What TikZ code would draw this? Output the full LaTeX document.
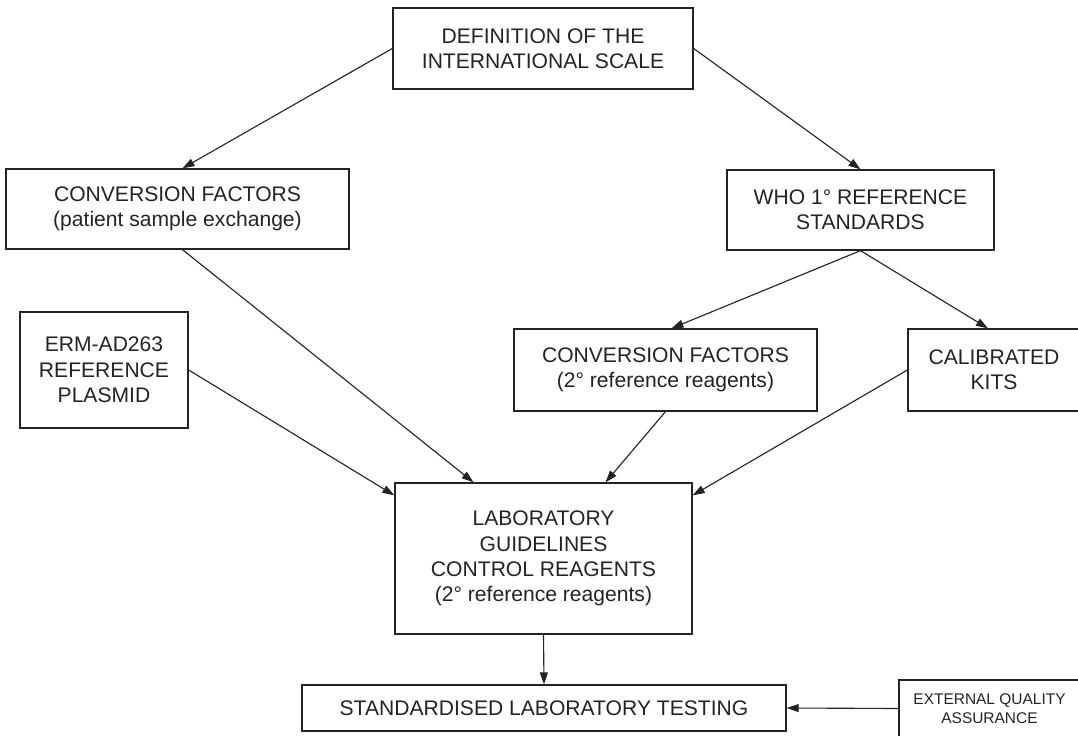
\documentclass[tikz,border=0pt]{standalone}
\usepackage{fontspec}
\setmainfont{Liberation Sans}
\usetikzlibrary{arrows.meta,calc}
\definecolor{inkgray}{RGB}{35,35,35}

\begin{document}
\begin{tikzpicture}[x=0.025cm, y=-0.025cm,
    box/.style={draw=inkgray, line width=0.9pt, text=inkgray, inner sep=0pt, align=center,
      font=\fontsize{15}{18}\selectfont},
    smallbox/.style={box, font=\fontsize{11}{13.5}\selectfont},
    link/.style={-{Triangle[length=3mm,width=2mm]}, line width=0.8pt, inkgray}]
  \clip (0,0) rectangle (1078,736);
  % Top
  \node[box, minimum width=7.5cm, minimum height=2.025cm] (def) at (543,48.5) {DEFINITION OF THE\\INTERNATIONAL SCALE};
  % Second row
  \node[box, minimum width=8.575cm, minimum height=2.0cm] (convA) at (177.5,209) {CONVERSION FACTORS\\(patient sample exchange)};
  \node[box, minimum width=6.675cm, minimum height=2.0cm] (who) at (860.5,210) {WHO 1\textdegree{} REFERENCE\\STANDARDS};
  % Third row
  \node[box, minimum width=4.2cm, minimum height=2.9cm] (erm) at (104,370) {ERM-AD263\\REFERENCE\\PLASMID};
  \node[box, minimum width=7.575cm, minimum height=2.05cm] (convB) at (665.5,370) {CONVERSION FACTORS\\(2\textdegree{} reference reagents)};
  \node[box, minimum width=4.3cm, minimum height=2.05cm] (kits) at (994,370) {CALIBRATED\\KITS};
  % Laboratory
  \node[box, minimum width=7.425cm, minimum height=3.775cm] (lab) at (543.5,558.5) {LABORATORY\\GUIDELINES\\CONTROL REAGENTS\\(2\textdegree{} reference reagents)};
  \node[box, minimum width=12.1cm, minimum height=1.15cm] (stand) at (544,708) {STANDARDISED LABORATORY TESTING};
  \node[smallbox, minimum width=4.525cm, minimum height=1.425cm] (eqa) at (989.5,708.5) {EXTERNAL QUALITY\\ASSURANCE};
  % Arrows
  \draw[link] (def.west) -- ($(convA.north)+(5,0)$);
  \draw[link] (def.east) -- (who.north);
  \draw[link] ($(convA.south)+(5,0)$) -- ($(lab.north)+(-70,0)$);
  \draw[link] (erm.east) -- ($(lab.north west)+(0,13)$);
  \draw[link] (who.south) -- ($(convB.north)+(6,0)$);
  \draw[link] (who.south) -- ($(kits.north)+(-6,0)$);
  \draw[link] (convB.south) -- ($(lab.north)+(62,0)$);
  \draw[link] (kits.west) -- ($(lab.north east)+(0,13)$);
  \draw[link] (lab.south) -- (stand.north);
  \draw[link] (eqa.west) -- (stand.east);
\end{tikzpicture}
\end{document}
